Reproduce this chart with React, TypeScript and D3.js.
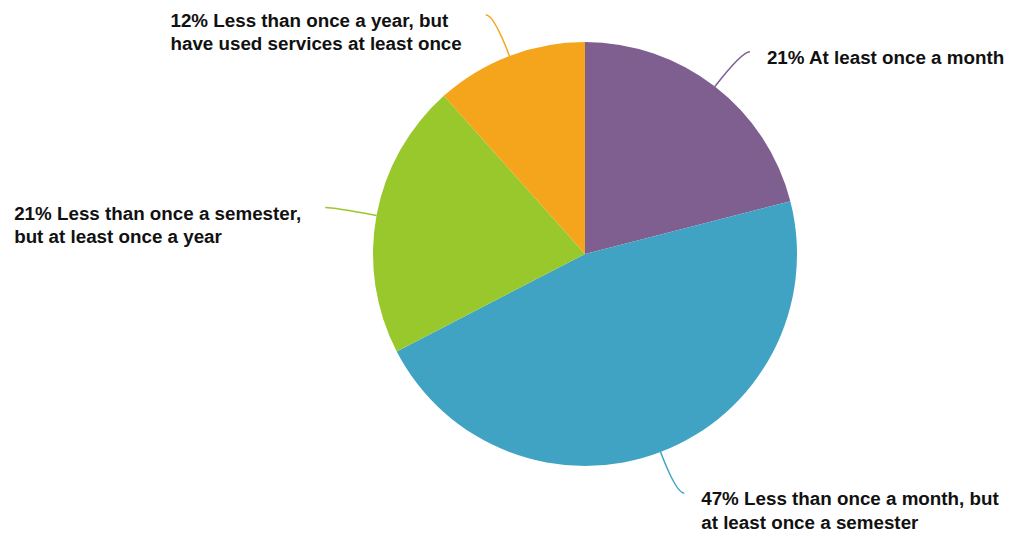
import React from "react";
import * as d3 from "d3";

const categories = [
  "At least once a month",
  "Less than once a month, but at least once a semester",
  "Less than once a semester, but at least once a year",
  "Less than once a year, but have used services at least once",
];
const values = [21, 46.4, 21, 11.6];
const percentLabels = ["21%", "47%", "21%", "12%"];
const labelLines = [
  ["21% At least once a month"],
  ["47% Less than once a month, but", "at least once a semester"],
  ["21% Less than once a semester,", "but at least once a year"],
  ["12% Less than once a year, but", "have used services at least once"],
];
const colors = ["#7E5F8F", "#41A3C3", "#98C82B", "#F5A51B"];

const W = 1010;
const H = 536;
const cx = 585;
const cy = 254;
const R = 212;
const FONT = "bold 18.8px 'Liberation Sans', Arial, sans-serif";

function measure(t: string) {
  if (typeof document === "undefined") return t.length * 9;
  const c = document.createElement("canvas");
  const ctx = c.getContext("2d")!;
  ctx.font = FONT;
  return ctx.measureText(t).width;
}

export default function App() {
  const pie = d3.pie<number>().sort(null).value((d) => d)(values);
  const arc = d3.arc<d3.PieArcDatum<number>>().innerRadius(0).outerRadius(R);

  return (
    <svg width={W} height={H} style={{ position: "absolute", left: 0, top: 0 }}>
      <g transform={`translate(${cx},${cy})`}>
        {pie.map((p, i) => (
          <path key={i} d={arc(p) || ""} fill={colors[i]} />
        ))}
        {pie.map((p, i) => {
          const a = (p.startAngle + p.endAngle) / 2;
          const dx = Math.sin(a);
          const dy = -Math.cos(a);
          const sx = dx * R;
          const sy = dy * R;
          const ext = 44;
          const ctrlX = sx + dx * ext;
          const ctrlY = sy + dy * ext;
          const side = dx >= 0 ? 1 : -1;
          const ex = ctrlX + side * 8;
          const ey = ctrlY;
          const lines = labelLines[i];
          const blockW = Math.max(...lines.map(measure));
          const tx = side > 0 ? ex + 17 : ex - 24 - blockW;
          const path = d3.path();
          path.moveTo(sx, sy);
          path.quadraticCurveTo(ctrlX, ctrlY, ex, ey);
          return (
            <g key={"l" + i}>
              <path d={path.toString()} fill="none" stroke={colors[i]} strokeWidth={1.5} />
              <text
                x={tx}
                y={ey + 12}
                style={{ font: FONT }}
                fill="#111"
                data-category={categories[i]}
                data-pct={percentLabels[i]}
              >
                {lines.map((ln, j) => (
                  <tspan key={j} x={tx} dy={j === 0 ? 0 : 23.5}>
                    {ln}
                  </tspan>
                ))}
              </text>
            </g>
          );
        })}
      </g>
    </svg>
  );
}
